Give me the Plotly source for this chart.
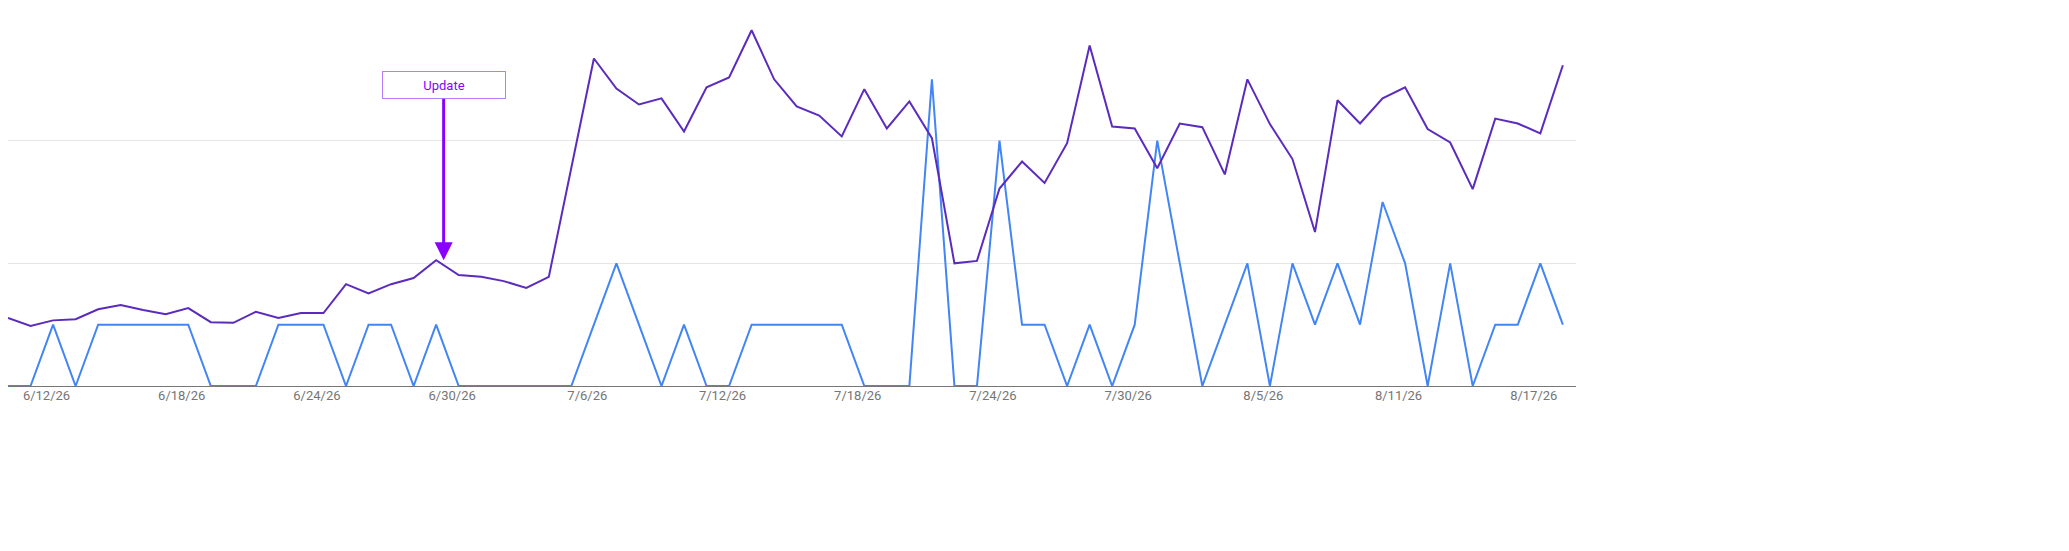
import plotly.graph_objects as go
import pandas as pd

dates = pd.date_range("2026-06-10", periods=70, freq="D")
purple_px = [310,318,312,311,301,297,302,306,300,314,315,304,310,305,305,276,285,276,270,252,
             267,269,273,280,269,160,50,80,96,90,123,79,69,22,71,98,107,128,81,120,
             93,130,255,253,180,153,175,135,37,118,120,160,115,119,166,71,116,151,224,92,
             115,90,79,121,134,181,110,115,125,57]
purple = [round((378-v)/61.4, 2) for v in purple_px]
blue = [0,0,1,0,1,1,1,1,1,0,0,0,1,1,1,0,1,1,0,1,
        0,0,0,0,0,0,1,2,1,0,1,0,0,1,1,1,1,1,0,0,
        0,5,0,0,4,1,1,0,1,0,1,4,2,0,1,2,0,2,1,2,
        1,3,2,0,2,0,1,1,2,1]
tick_dates = pd.date_range("2026-06-12", "2026-08-17", freq="6D")
tick_pos = tick_dates - pd.Timedelta(hours=7)

fig = go.Figure()
fig.add_trace(go.Scatter(x=dates, y=blue, mode="lines", line=dict(color="#4285f4", width=2)))
fig.add_trace(go.Scatter(x=dates, y=purple, mode="lines", line=dict(color="#5b2bbd", width=2)))
fig.add_annotation(x=pd.Timestamp("2026-06-29 08:00"), y=purple[19], ax=pd.Timestamp("2026-06-29 08:00"), ay=4.9,
                   axref="x", ayref="y", text="Update", showarrow=True, arrowhead=2, arrowsize=1.2,
                   arrowwidth=3, arrowcolor="#8a00ff", font=dict(color="#8a00ff", size=13, family="Roboto"),
                   bgcolor="white", bordercolor="#b57cff", borderwidth=1, width=120, height=24)
fig.update_layout(width=2069, height=551, margin=dict(l=0, r=501, t=10, b=173, autoexpand=False),
                  plot_bgcolor="white", paper_bgcolor="white", showlegend=False,
                  font=dict(family="Roboto", size=13, color="#757575"))
fig.update_xaxes(range=[pd.Timestamp("2026-06-10 00:00"), pd.Timestamp("2026-08-18 14:00")],
                 tickvals=tick_pos, ticktext=[f"{d.month}/{d.day}/26" for d in tick_dates],
                 showgrid=False, showline=False, ticks="", zeroline=False)
fig.update_yaxes(range=[0, 6], tickvals=[0, 2, 4, 6], showticklabels=False, gridcolor="#e6e6e6",
                 zeroline=True, zerolinecolor="#777777", zerolinewidth=1)
fig.write_html("out.html")
